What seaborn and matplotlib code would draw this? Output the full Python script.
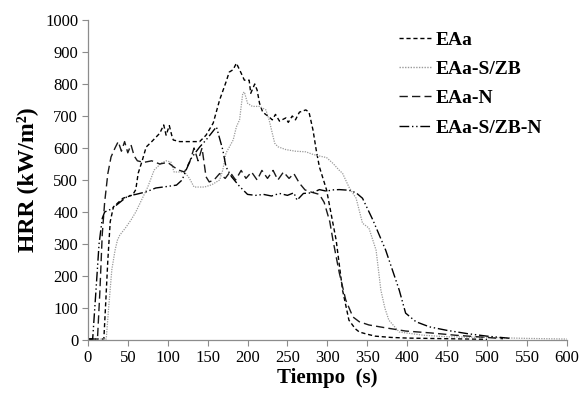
import pandas as pd
import seaborn as sns
from matplotlib import pyplot as plt

# HRR curves (time in s, HRR in kW/m2)
t_eaa = [0, 20, 22, 25, 28, 32, 44, 56, 60, 63, 68, 73, 80, 90, 95, 98, 102, 105, 107, 115,
         125, 140, 148, 157, 165, 173, 177, 182, 186, 192, 196, 202, 204, 209, 212, 215, 219,
         227, 231, 235, 240, 248, 251, 256, 260, 265, 273, 277, 282, 286, 290, 299, 305, 311,
         319, 327, 335, 340, 350, 360, 380, 400, 450, 500]
hrr_eaa = [3, 3, 100, 250, 370, 416, 443, 453, 470, 521, 560, 603, 620, 646, 672, 640, 670, 640,
           625, 620, 620, 620, 640, 678, 750, 806, 837, 845, 865, 834, 812, 812, 771, 800, 781,
           740, 712, 697, 688, 705, 684, 694, 680, 700, 688, 712, 719, 712, 656, 594, 541, 469,
           390, 312, 156, 62, 35, 25, 18, 12, 8, 6, 4, 2]

t_eaa_szb = [0, 23, 26, 30, 34, 37, 40, 47, 54, 60, 66, 75, 83, 92, 98, 104, 108, 115, 121, 127,
             133, 140, 146, 155, 165, 169, 173, 182, 186, 190, 194, 196, 200, 206, 215, 223, 227,
             234, 238, 248, 260, 273, 282, 290, 299, 307, 315, 319, 327, 336, 344, 352, 361, 367,
             372, 377, 390, 420, 450, 500, 550, 600]
hrr_eaa_szb = [3, 3, 100, 220, 280, 312, 328, 350, 375, 400, 431, 478, 531, 553, 560, 556, 525,
               525, 525, 506, 478, 478, 478, 485, 500, 531, 584, 625, 666, 688, 771, 775, 740, 730,
               730, 719, 688, 615, 604, 595, 590, 588, 580, 575, 570, 552, 530, 521, 478, 443, 365,
               350, 281, 156, 100, 62, 25, 15, 10, 8, 5, 3]

t_eaa_n = [0, 12, 15, 18, 21, 25, 29, 34, 38, 42, 46, 50, 54, 58, 62, 70, 80, 90, 100, 108, 115,
           121, 128, 133, 138, 143, 148, 152, 158, 165, 172, 178, 185, 192, 198, 205, 212, 218,
           225, 232, 238, 245, 252, 258, 265, 272, 280, 290, 296, 303, 307, 315, 323, 332, 340,
           352, 373, 398, 430, 460, 500, 520]
hrr_eaa_n = [3, 3, 150, 330, 430, 520, 572, 600, 620, 590, 620, 585, 610, 575, 560, 555, 560,
             550, 555, 540, 530, 525, 560, 600, 560, 600, 510, 494, 500, 520, 505, 525, 500, 530,
             505, 525, 500, 530, 505, 530, 500, 525, 505, 520, 490, 469, 462, 455, 430, 370, 312,
             209, 125, 72, 57, 47, 38, 28, 22, 15, 8, 4]

t_eaa_szb_n = [0, 6, 10, 14, 18, 21, 30, 40, 50, 60, 73, 85, 100, 111, 118, 123, 130, 140, 148,
               155, 161, 165, 169, 173, 180, 190, 200, 210, 220, 230, 240, 250, 258, 262, 270,
               281, 290, 299, 306, 315, 327, 336, 344, 357, 373, 390, 398, 411, 428, 450, 475,
               500, 530]
hrr_eaa_szb_n = [3, 3, 150, 300, 380, 400, 410, 430, 450, 455, 463, 475, 480, 484, 500, 531, 570,
                 603, 625, 647, 666, 630, 594, 541, 510, 480, 455, 452, 455, 450, 458, 452, 460,
                 437, 458, 460, 470, 465, 469, 470, 468, 460, 443, 375, 281, 156, 84, 57, 41, 30,
                 20, 12, 5]

series = [
    ('EAa', t_eaa, hrr_eaa, '#000000', (3, 2), 1.0),
    ('EAa-S/ZB', t_eaa_szb, hrr_eaa_szb, '#9a9a9a', (1, 1), 0.9),
    ('EAa-N', t_eaa_n, hrr_eaa_n, '#1a1a1a', (6, 3), 1.0),
    ('EAa-S/ZB-N', t_eaa_szb_n, hrr_eaa_szb_n, '#000000', (7, 2, 1, 2, 1, 2), 1.0),
]

sns.set_style('white')
plt.rcParams['font.family'] = ['Liberation Serif', 'DejaVu Serif']
plt.rcParams['text.color'] = 'black'
plt.rcParams['axes.labelcolor'] = 'black'
plt.rcParams['xtick.color'] = 'black'
plt.rcParams['ytick.color'] = 'black'

fig = plt.figure(figsize=(5.82, 4.0), dpi=100)
ax = fig.add_axes([0.151, 0.15, 0.823, 0.80])

for name, t, v, col, dash, lw in series:
    d = pd.DataFrame({'t': t, 'hrr': v})
    sns.lineplot(data=d, x='t', y='hrr', ax=ax, color=col, lw=lw, label=name)
    ax.lines[-1].set_dashes(dash)

ax.set_xlim(0, 600)
ax.set_ylim(0, 1000)
ax.set_xticks(range(0, 601, 50))
ax.set_yticks(range(0, 1001, 100))
ax.tick_params(labelsize=12, length=4, color='#8c8c8c', labelcolor='black',
               direction='out', bottom=True, left=True, pad=3)
for s in ['top', 'right']:
    ax.spines[s].set_visible(False)
for s in ['left', 'bottom']:
    ax.spines[s].set_color('#8c8c8c')
    ax.spines[s].set_linewidth(0.9)

ax.set_xlabel('Tiempo  (s)', fontsize=15, fontweight='bold', labelpad=2)
ax.set_ylabel('HRR (kW/m²)', fontsize=17, fontweight='bold', labelpad=5)

leg = ax.legend(loc='upper left', bbox_to_anchor=(0.613, 1.02), frameon=False,
                prop={'size': 14, 'weight': 'bold'}, handlelength=1.65,
                handletextpad=0.25, labelspacing=0.6)
for h in leg.get_lines():
    h.set_linewidth(1.0)

fig.savefig('out.png', dpi=100)
